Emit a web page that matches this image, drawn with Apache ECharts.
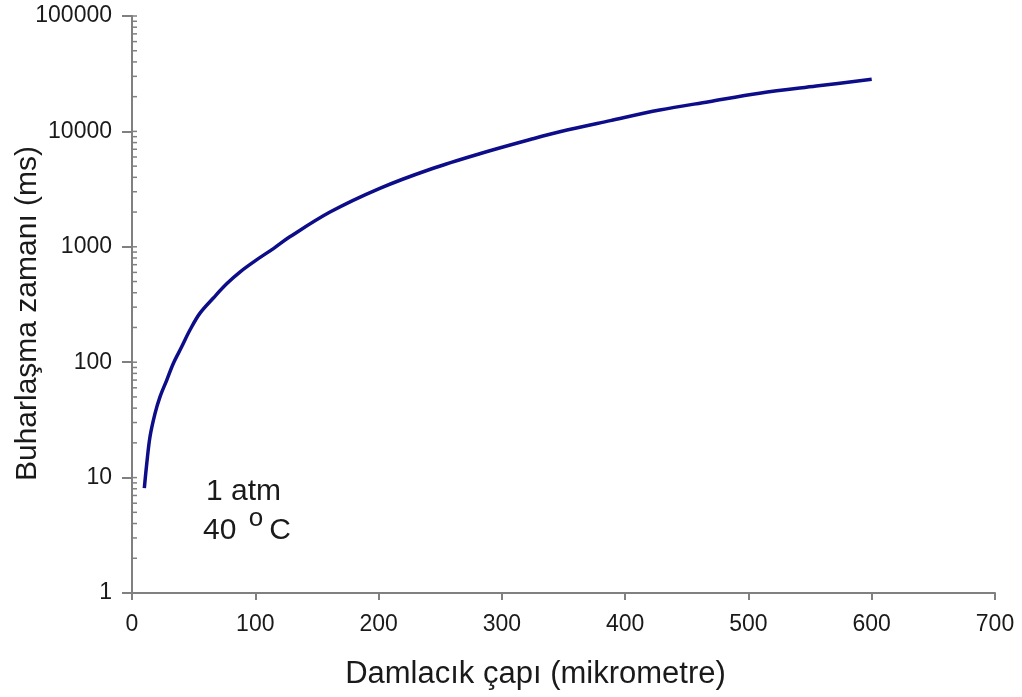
<!DOCTYPE html>
<html>
<head>
<meta charset="utf-8">
<title>Buharlaşma zamanı</title>
<script src="https://cdn.jsdelivr.net/npm/echarts@6/dist/echarts.min.js"></script>
<style>
  html, body { margin: 0; padding: 0; background: #fff; }
  #chart { width: 1022px; height: 697px; }
</style>
</head>
<body>
<div id="chart"></div>
<script>
// damlacık çapı (mikrometre), grafikten okunan noktalar
var diameters = [10, 12, 14.6, 18.7, 22.7, 28.2, 33.6, 40.3, 47, 55, 66, 77, 88, 101, 115, 128,
  161, 201, 242, 282, 323, 347, 388, 428, 468, 509, 555, 600];
// buharlaşma zamanı (ms)
var times = [8.1, 13.3, 22.6, 36, 50, 70, 98, 136, 190, 265, 360, 480, 610, 770, 970, 1220,
  2010, 3210, 4700, 6400, 8500, 9930, 12400, 15300, 18100, 21400, 24700, 28250];

var xTicks = [0, 100, 200, 300, 400, 500, 600, 700];
var yDecades = [1, 10, 100, 1000, 10000, 100000];
// ara çentikler (2..9 x 10^k)
var yMinor = [];
for (var k = 0; k < yDecades.length - 1; k++) {
  for (var m = 2; m <= 9; m++) yMinor.push(m * yDecades[k]);
}

var axisGray = '#808080';
var textColor = '#1a1a1a';
var font = 'Liberation Sans, Arial, sans-serif';

var chart = echarts.init(document.getElementById('chart'));

var option = {
  animation: false,
  backgroundColor: '#fff',
  textStyle: { fontFamily: font },
  grid: {
    left: 132,
    right: 27,
    top: 16,
    bottom: 104,
    outerBoundsMode: 'none'
  },
  xAxis: {
    type: 'value',
    min: xTicks[0],
    max: xTicks[xTicks.length - 1],
    interval: 100,
    name: 'Damlacık çapı (mikrometre)',
    nameLocation: 'middle',
    nameGap: 66,
    nameMoveOverlap: false,
    nameTextStyle: { fontSize: 31, color: textColor, fontFamily: font, padding: [0, 56, 0, 0] },
    axisLine: { lineStyle: { color: axisGray, width: 2 } },
    axisTick: { length: 7, lineStyle: { color: axisGray, width: 2 } },
    axisLabel: { fontSize: 23, color: textColor, margin: 20, fontFamily: font },
    splitLine: { show: false }
  },
  yAxis: {
    type: 'log',
    logBase: 10,
    min: yDecades[0],
    max: yDecades[yDecades.length - 1],
    name: 'Buharlaşma zamanı (ms)',
    nameLocation: 'middle',
    nameGap: 89,
    nameMoveOverlap: false,
    nameTextStyle: { fontSize: 30, color: textColor, fontFamily: font, padding: [0, 18, 0, 0] },
    axisLine: { lineStyle: { color: axisGray, width: 2 } },
    axisTick: { length: 10, lineStyle: { color: axisGray, width: 2 } },
    axisLabel: {
      fontSize: 23,
      color: textColor,
      margin: 20,
      fontFamily: font,
      formatter: function (v) { return String(Math.round(v)); }
    },
    splitLine: { show: false }
  },
  graphic: [
    {
      type: 'text',
      left: 206,
      top: 477,
      style: { text: '1 atm', fontSize: 30, fill: textColor, fontFamily: font }
    },
    {
      type: 'text',
      left: 203,
      top: 506,
      style: {
        text: '{n|40 }{s|o}{n|C}',
        fill: textColor,
        fontFamily: font,
        rich: {
          n: { fontSize: 30, fontFamily: font, fill: textColor, verticalAlign: 'bottom' },
          s: { fontSize: 26, fontFamily: font, fill: textColor, verticalAlign: 'bottom', padding: [0, 6, 14, 4] }
        }
      }
    }
  ],
  series: [
    {
      type: 'line',
      data: diameters.map(function (d, i) { return [d, times[i]]; }),
      smooth: 0.35,
      showSymbol: false,
      symbol: 'none',
      lineStyle: { color: '#0d0d8a', width: 3.5, cap: 'butt' },
      z: 3
    },
    {
      // iç taraftaki kısa çentikler (logaritmik ara değerler + ana değerler)
      type: 'custom',
      silent: true,
      z: 4,
      encode: { x: 0, y: 1 },
      data: yMinor.concat(yDecades).map(function (v) { return [0, v]; }),
      renderItem: function (params, api) {
        var p = api.coord([0, api.value(1)]);
        return {
          type: 'line',
          shape: { x1: p[0], y1: p[1], x2: p[0] + 5, y2: p[1] },
          style: { stroke: axisGray, lineWidth: 1.5 }
        };
      }
    }
  ]
};

chart.setOption(option);
</script>
</body>
</html>
